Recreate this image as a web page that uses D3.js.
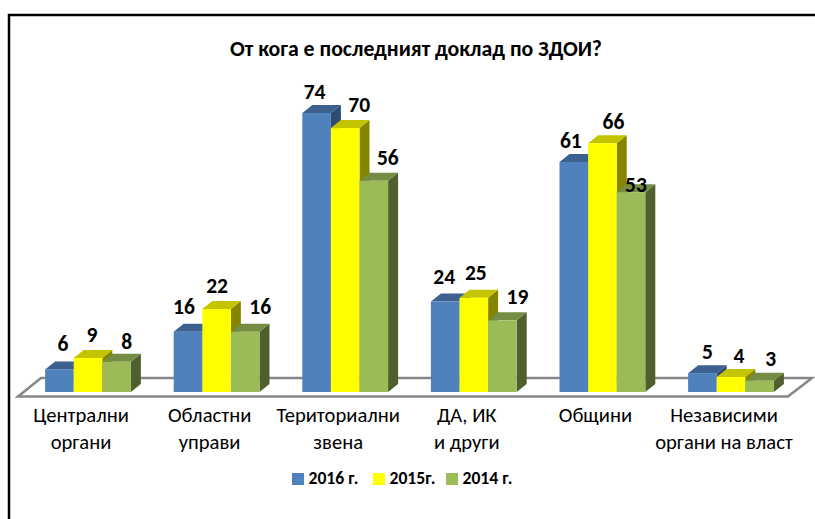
<!DOCTYPE html>
<html>
<head>
<meta charset="utf-8">
<script src="https://cdn.jsdelivr.net/npm/d3@7/dist/d3.min.js"></script>
<style>
  html, body { margin: 0; padding: 0; background: #fff; }
  text { font-family: Carlito, Lato, "Open Sans", sans-serif; fill: #000; }
</style>
</head>
<body>
<script>
'use strict';

const categories = [
  ["Централни", "органи"],
  ["Областни", "управи"],
  ["Териториални", "звена"],
  ["ДА, ИК", "и други"],
  ["Общини"],
  ["Независими", "органи на власт"]
];
const seriesNames = ["2016 г.", "2015г.", "2014 г."];
const values2016 = [6, 16, 74, 24, 61, 5];
const values2015 = [9, 22, 70, 25, 66, 4];
const values2014 = [8, 16, 56, 19, 53, 3];

const allValues = [values2016, values2015, values2014];
const chartTitle = "От кога е последният доклад по ЗДОИ?";

// colours per series: front, top, side
const colors = [
  { front: "#4f81bd", top: "#3c618e", side: "#2f4d71" },
  { front: "#ffff00", top: "#c4c400", side: "#858500" },
  { front: "#9bbb59", top: "#748c43", side: "#4f5f2d" }
];

const width = 815, height = 519;
const baseY = 392;      // bottom of the bar fronts
const depthX = 10, depthY = 8;

const svg = d3.select("body").append("svg")
  .attr("width", width)
  .attr("height", height)
  .style("display", "block");

// frame, only top and left are visible in the crop
svg.append("path")
  .attr("d", d3.line()([[9, height], [9, 15], [width, 15]]))
  .attr("fill", "none")
  .attr("stroke", "#000")
  .attr("stroke-width", 2.5);

svg.append("text")
  .attr("x", 416)
  .attr("y", 56)
  .attr("text-anchor", "middle")
  .style("font-size", "21.8px")
  .style("font-weight", "bold")
  .text(chartTitle);

const xScale = d3.scaleBand()
  .domain(d3.range(categories.length))
  .range([23.7, 795.3])
  .paddingInner(0.333)
  .paddingOuter(0.1665);

const xInner = d3.scaleBand()
  .domain(d3.range(allValues.length))
  .range([0, xScale.bandwidth()]);

const yScale = d3.scaleLinear()
  .domain([0, 74])
  .range([baseY, 113]);

// floor of the 3d plot
const floorFront = baseY + 4.5, floorBack = baseY - 14;
svg.append("polygon")
  .attr("points", [[18, floorFront], [788, floorFront], [812, floorBack], [41, floorBack]].join(" "))
  .attr("fill", "#fff")
  .attr("stroke", "#868686")
  .attr("stroke-width", 2.5);

// bars
categories.forEach((cat, i) => {
  allValues.forEach((vals, s) => {
    const x0 = xScale(i) + xInner(s);
    const x1 = x0 + xInner.bandwidth();
    const yTop = yScale(vals[i]);
    const g = svg.append("g");
    g.append("polygon")
      .attr("points", [[x1, yTop], [x1 + depthX, yTop - depthY], [x1 + depthX, baseY - depthY], [x1, baseY]].join(" "))
      .attr("fill", colors[s].side);
    g.append("polygon")
      .attr("points", [[x0, yTop], [x0 + depthX, yTop - depthY], [x1 + depthX, yTop - depthY], [x1, yTop]].join(" "))
      .attr("fill", colors[s].top);
    g.append("rect")
      .attr("x", x0)
      .attr("y", yTop)
      .attr("width", x1 - x0)
      .attr("height", baseY - yTop)
      .attr("fill", colors[s].front);
  });
});

// value labels, the original ones were placed by hand so each gets a nudge
const labelDx = [
  [3.5, 4, 10], [-4, 0.5, 15], [-2, 14, 14], [-1, 2, 15], [-3, 11, 5], [5, 8, 11]
];
const labelDy = [
  [-3, -1, 3], [-2, -1, -2], [1, -1, 0], [-2, -2, -1], [1, 1, 15], [1, 2, 1]
];
categories.forEach((cat, i) => {
  allValues.forEach((vals, s) => {
    svg.append("text")
      .attr("x", xScale(i) + xInner(s) + xInner.bandwidth() / 2 + labelDx[i][s])
      .attr("y", yScale(vals[i]) - 15.5 + labelDy[i][s])
      .attr("text-anchor", "middle")
      .style("font-size", "21.5px")
      .style("font-weight", "bold")
      .text(vals[i]);
  });
});

// category labels
const axis = d3.axisBottom(xScale).tickSize(0).tickFormat("");
const axisG = svg.append("g")
  .attr("transform", "translate(0, 400)")
  .call(axis);
axisG.select(".domain").remove();
axisG.selectAll(".tick text").remove();
axisG.selectAll(".tick").each(function(d) {
  const label = d3.select(this).append("text")
    .attr("text-anchor", "middle")
    .style("font-size", "20.6px");
  categories[d].forEach((line, k) => {
    label.append("tspan")
      .attr("x", -7)
      .attr("y", 22 + k * 26.5)
      .text(line);
  });
});

// legend
const legendX = [292, 373, 446];
seriesNames.forEach((name, s) => {
  svg.append("rect")
    .attr("x", legendX[s])
    .attr("y", 473)
    .attr("width", 12)
    .attr("height", 12)
    .attr("fill", colors[s].front);
  svg.append("text")
    .attr("x", legendX[s] + 16.5)
    .attr("y", 484)
    .style("font-size", "17.6px")
    .style("font-weight", "bold")
    .text(name);
});
</script>
</body>
</html>
